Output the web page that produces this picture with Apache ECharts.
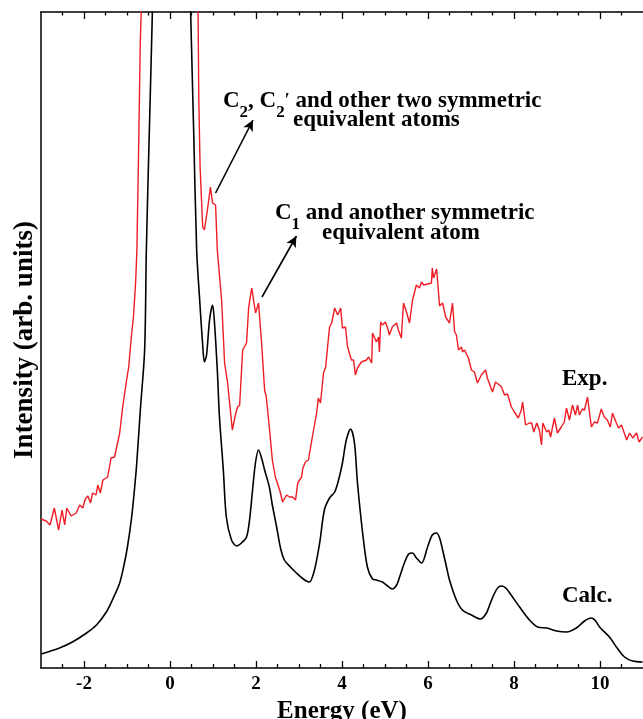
<!DOCTYPE html>
<html>
<head>
<meta charset="utf-8">
<script src="https://cdn.jsdelivr.net/npm/echarts@6/dist/echarts.min.js"></script>
<style>
html,body{margin:0;padding:0;background:#fff;}
#chart{width:643px;height:719px;}
</style>
</head>
<body>
<div id="chart"></div>
<script>
// ---- data (Energy in eV, intensity in arbitrary units) ----
var majorTicks = [-2, 0, 2, 4, 6, 8, 10];
var minorTicks = [-2.5, -1.5, -1, -0.5, 0.5, 1, 1.5, 2.5, 3, 3.5, 4.5, 5, 5.5, 6.5, 7, 7.5, 8.5, 9, 9.5, 10.5];

var calcPoints = [
[-3.0,1.4],[-2.57,2.0],[-2.27,2.6],[-1.94,3.5],[-1.71,4.3],[-1.48,5.6],[-1.34,6.8],[-1.17,8.5],[-1.06,10.5],[-0.99,12.1],
[-0.90,14.8],[-0.85,16.8],[-0.78,20.1],[-0.69,25.8],[-0.59,31.8],[-0.55,41.8],[-0.48,53.8],[-0.41,65.6],[-0.31,86.8],[-0.17,116.8],
[0.01,136.8],[0.20,116.8],[0.36,86.8],[0.48,65.6],[0.55,53.8],[0.62,41.8],[0.69,36.8],[0.76,32.3],[0.80,30.6],[0.85,31.3],
[0.92,34.8],[0.99,36.3],[1.03,34.8],[1.10,29.8],[1.15,25.1],[1.24,19.8],[1.31,15.1],[1.43,12.8],[1.55,12.2],[1.66,12.5],
[1.78,13.1],[1.85,14.8],[1.92,17.8],[1.99,20.6],[2.06,21.8],[2.13,21.0],[2.20,19.8],[2.31,18.1],[2.38,16.3],[2.48,14.1],
[2.57,12.0],[2.66,10.8],[2.80,10.1],[2.94,9.5],[3.10,8.9],[3.24,8.6],[3.36,9.8],[3.48,12.5],[3.59,15.8],[3.71,17.0],
[3.83,17.6],[3.92,18.8],[4.01,20.5],[4.10,22.8],[4.20,23.9],[4.29,22.5],[4.36,18.5],[4.48,13.5],[4.59,10.1],[4.71,8.9],
[4.80,8.8],[4.94,8.6],[5.06,8.2],[5.17,7.9],[5.27,8.3],[5.34,9.1],[5.45,10.5],[5.55,11.4],[5.64,11.5],[5.73,11.0],
[5.85,10.5],[5.99,12.1],[6.10,13.3],[6.20,13.5],[6.27,13.0],[6.34,11.8],[6.43,10.1],[6.50,8.8],[6.66,6.8],[6.80,5.8],
[7.01,5.3],[7.22,4.9],[7.36,5.5],[7.45,6.5],[7.55,7.5],[7.64,8.1],[7.73,8.2],[7.83,7.9],[7.90,7.5],[8.13,6.1],
[8.36,4.8],[8.55,4.1],[8.76,4.0],[8.99,3.7],[9.22,3.6],[9.45,4.0],[9.64,4.7],[9.80,5.0],[9.90,4.7],[9.99,4.1],
[10.22,3.1],[10.38,2.1],[10.57,1.1],[10.76,0.7],[10.99,0.6]
];

var expPoints = [
[-3.0,14.9],[-2.88,14.7],[-2.79,14.3],[-2.69,16.0],[-2.59,13.8],[-2.51,15.8],[-2.45,14.3],[-2.40,16.0],[-2.30,15.2],[-2.18,15.5],
[-2.10,16.3],[-2.03,16.0],[-1.97,16.9],[-1.91,17.2],[-1.85,16.5],[-1.80,17.5],[-1.72,17.3],[-1.68,18.3],[-1.62,17.5],[-1.56,18.8],
[-1.45,19.1],[-1.37,21.0],[-1.29,21.1],[-1.17,23.5],[-1.10,26.1],[-1.02,28.5],[-0.96,30.1],[-0.90,33.1],[-0.85,35.1],[-0.80,38.5],
[-0.77,41.8],[-0.73,51.8],[-0.69,62.8],[-0.66,66.8],[0.0,146.8],[0.65,66.8],[0.67,56.8],[0.70,50.1],[0.76,44.1],[0.80,43.8],
[0.87,45.8],[0.94,48.1],[0.99,46.5],[1.06,46.3],[1.10,41.8],[1.20,36.8],[1.27,30.5],[1.34,28.5],[1.45,23.8],[1.52,25.3],
[1.57,26.1],[1.62,26.3],[1.69,31.8],[1.78,32.5],[1.83,36.1],[1.90,38.0],[1.99,35.5],[2.06,36.5],[2.13,32.5],[2.20,27.8],
[2.24,27.1],[2.31,24.1],[2.38,20.8],[2.45,19.1],[2.55,17.8],[2.62,16.6],[2.71,17.3],[2.78,17.1],[2.85,17.1],[2.92,16.8],
[2.97,18.5],[3.06,19.1],[3.09,20.0],[3.15,20.6],[3.22,20.8],[3.31,23.1],[3.41,25.5],[3.45,27.0],[3.50,26.5],[3.57,29.5],
[3.62,30.1],[3.71,34.1],[3.76,34.5],[3.83,36.0],[3.90,35.3],[3.97,36.0],[4.01,34.0],[4.08,34.1],[4.13,32.1],[4.22,30.8],
[4.27,30.8],[4.31,29.3],[4.36,30.0],[4.45,30.6],[4.57,30.8],[4.62,31.1],[4.69,30.5],[4.71,33.5],[4.76,33.0],[4.80,32.6],
[4.85,33.1],[4.87,31.6],[4.90,34.6],[4.94,34.3],[5.01,34.6],[5.06,34.0],[5.10,33.3],[5.17,34.1],[5.27,34.5],[5.31,33.8],
[5.38,33.0],[5.43,36.5],[5.50,35.6],[5.57,34.5],[5.64,36.8],[5.73,38.3],[5.80,38.0],[5.85,38.6],[5.90,38.3],[6.08,38.5],
[6.10,40.0],[6.13,39.0],[6.20,39.9],[6.27,36.2],[6.34,36.5],[6.41,35.1],[6.50,34.5],[6.57,36.5],[6.62,33.6],[6.66,33.3],
[6.71,31.8],[6.78,32.1],[6.80,31.6],[6.85,31.8],[6.94,31.0],[7.01,29.8],[7.08,29.6],[7.15,28.5],[7.24,29.3],[7.34,29.8],
[7.38,29.0],[7.50,27.6],[7.57,28.6],[7.66,28.3],[7.71,28.1],[7.78,27.3],[7.85,27.4],[7.94,26.1],[8.01,25.6],[8.10,25.0],
[8.17,25.8],[8.20,26.6],[8.27,24.3],[8.36,24.5],[8.41,24.5],[8.46,23.6],[8.53,24.5],[8.59,23.8],[8.64,22.3],[8.67,24.5],
[8.76,23.6],[8.81,23.8],[8.85,23.1],[8.94,25.0],[9.01,23.5],[9.10,24.1],[9.17,24.6],[9.22,26.0],[9.29,24.8],[9.36,26.3],
[9.43,25.3],[9.48,26.3],[9.52,25.3],[9.59,25.9],[9.64,25.8],[9.71,27.1],[9.80,24.1],[9.87,24.6],[9.94,24.5],[10.03,25.9],
[10.10,25.1],[10.17,24.8],[10.24,24.1],[10.29,25.5],[10.38,24.5],[10.43,24.0],[10.50,24.3],[10.62,22.8],[10.69,23.5],[10.76,23.0],
[10.85,23.5],[10.91,22.6],[10.99,23.1]
];

// annotation arrows: [tail, head] in (eV, intensity)
var arrowC2 = [[1.06, 47.5], [1.93, 54.8]];
var arrowC1 = [[2.14, 37.1], [2.94, 43.2]];

var SERIF = "'Liberation Serif', 'Times New Roman', serif";

var chart = echarts.init(document.getElementById('chart'), null, {renderer: 'canvas'});

function xAx(pos, ticks, len, showLine, showLabels, name) {
  return {
    type: 'value', position: pos, min: -3, max: 11,
    name: name || '', nameLocation: 'middle', nameGap: 26,
    nameTextStyle: {fontFamily: SERIF, fontWeight: 'bold', fontSize: 25, color: '#000'},
    axisLine: {show: showLine, onZero: false, lineStyle: {color: '#000', width: 1.5}},
    axisTick: {show: true, inside: true, length: len, customValues: ticks, lineStyle: {color: '#000', width: 1.3}},
    axisLabel: {show: showLabels, customValues: ticks, margin: 7, fontFamily: SERIF, fontWeight: 'bold', fontSize: 19, color: '#000'},
    splitLine: {show: false}
  };
}

var rich = {
  m: {fontFamily: SERIF, fontWeight: 'bold', fontSize: 23, color: '#000', lineHeight: 40, verticalAlign: 'middle'},
  s: {fontFamily: SERIF, fontWeight: 'bold', fontSize: 17, color: '#000', lineHeight: 17, verticalAlign: 'bottom'},
  p: {fontFamily: SERIF, fontWeight: 'bold', fontSize: 18, color: '#000', lineHeight: 40, verticalAlign: 'middle'}
};
function txt(x, y, text) {
  return {type: 'text', left: x, top: y, silent: true,
    style: {text: text, rich: rich, fill: '#000', font: 'bold 23px ' + SERIF, verticalAlign: 'middle'}};
}

var option = {
  animation: false,
  backgroundColor: '#fff',
  grid: {left: 41, right: 0, top: 12, bottom: 51, containLabel: false, outerBoundsMode: 'none'},
  xAxis: [
    xAx('bottom', majorTicks, 7, true, true, 'Energy (eV)'),
    xAx('bottom', minorTicks, 4, false, false),
    xAx('top', majorTicks, 7, true, false),
    xAx('top', minorTicks, 3.5, false, false)
  ],
  yAxis: {
    type: 'value', min: 0, max: 65.6,
    name: 'Intensity (arb. units)', nameLocation: 'middle', nameGap: 2,
    nameTextStyle: {fontFamily: SERIF, fontWeight: 'bold', fontSize: 27, color: '#000'},
    axisLine: {show: true, onZero: false, lineStyle: {color: '#000', width: 1.5}},
    axisTick: {show: false}, axisLabel: {show: false}, splitLine: {show: false}
  },
  series: [
    {
      name: 'Exp.', type: 'line', xAxisIndex: 0, data: expPoints, showSymbol: false, symbol: 'none',
      clip: true, lineStyle: {color: '#ee1c24', width: 1.4}, z: 2,
      markLine: {
        silent: true, symbol: ['none', 'arrow'], symbolSize: [8, 11],
        label: {show: false},
        lineStyle: {color: '#000', width: 1.6, type: 'solid'},
        data: [
          [{coord: arrowC2[0]}, {coord: arrowC2[1]}],
          [{coord: arrowC1[0]}, {coord: arrowC1[1]}]
        ]
      }
    },
    {
      name: 'Calc.', type: 'line', xAxisIndex: 0, data: calcPoints, showSymbol: false, symbol: 'none',
      smooth: 0.3, clip: true, lineStyle: {color: '#000', width: 1.6}, z: 3
    }
  ],
  graphic: [
    txt(223, 90, '{m|C}{s|2}{m|, C}{s|2}{p|′}{m| and other two symmetric}'),
    txt(293, 109, '{m|equivalent atoms}'),
    txt(275, 202, '{m|C}{s|1}{m| and another symmetric}'),
    txt(322, 222, '{m|equivalent atom}'),
    txt(562, 368, '{m|Exp.}'),
    txt(562, 585, '{m|Calc.}')
  ]
};
chart.setOption(option);
</script>
</body>
</html>
